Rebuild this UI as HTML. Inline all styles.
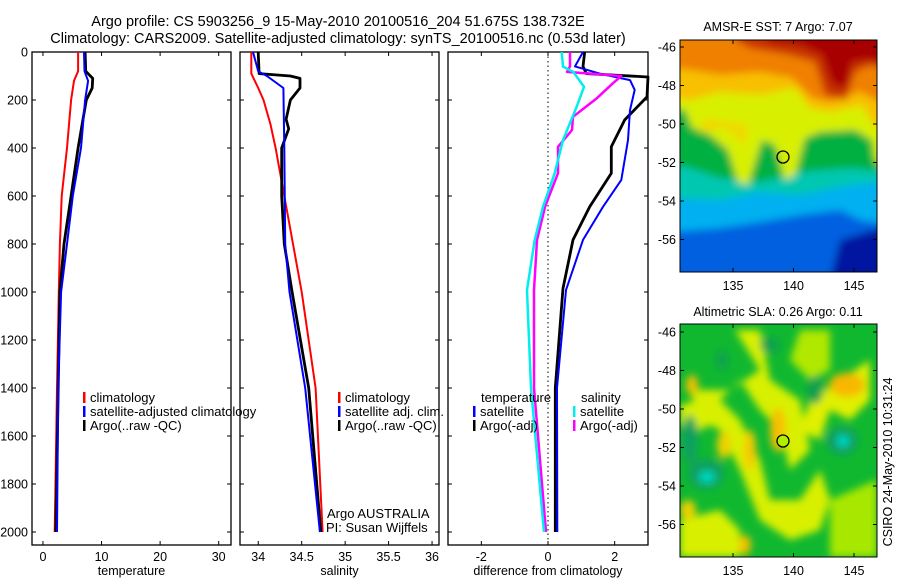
<!DOCTYPE html>
<html><head><meta charset="utf-8"><style>
body{margin:0;background:#fff}
svg{display:block;font-family:"Liberation Sans",sans-serif}
</style></head><body>
<svg id="fig" width="900" height="580" viewBox="0 0 900 580">
<defs>
<filter id="blr" x="-10%" y="-10%" width="120%" height="120%"><feGaussianBlur stdDeviation="4"/></filter>
<clipPath id="c1"><rect x="680" y="40" width="197" height="232"/></clipPath>
<clipPath id="c2"><rect x="680" y="324" width="197" height="233"/></clipPath>
</defs>
<text x="338" y="26" font-size="14.5" text-anchor="middle">Argo profile: CS 5903256_9 15-May-2010 20100516_204 51.675S 138.732E</text>
<text x="338" y="43" font-size="14.5" text-anchor="middle">Climatology: CARS2009. Satellite-adjusted climatology: synTS_20100516.nc (0.53d later)</text>

<!-- SST map -->
<g>
<g clip-path="url(#c1)">
<rect x="680" y="40" width="197" height="232" fill="#0050d8"/>
<g filter="url(#blr)">
<path d="M670,30 H890 V280 H670Z" fill="#0060e0"/>
<path d="M670,30 H890 V225 L860,220 L840,210 L800,215 L760,222 L720,228 L670,232Z" fill="#00b0f0"/>
<path d="M670,30 H890 V180 L850,185 L800,195 L760,192 L720,200 L670,198Z" fill="#00c8b0"/>
<path d="M670,30 H890 V172 L850,168 L800,172 L760,182 L720,178 L690,168 L670,165Z" fill="#00b040"/>
<path d="M670,30 H890 V175 L875,160 L872,140 L855,130 L820,132 L805,138 L795,175 L785,180 L775,145 L762,140 L748,185 L738,182 L728,150 L710,135 L692,128 L685,110 L670,108Z" fill="#d8f000"/>
<path d="M700,132 L725,128 L745,145 L748,125 L705,118Z" fill="#f0d800"/>
<path d="M670,30 H890 V135 L872,122 L862,105 L830,112 L810,108 L795,88 L760,95 L720,92 L690,100 L670,98Z" fill="#f8c000"/>
<path d="M670,30 H890 V108 L872,98 L860,92 L830,102 L812,98 L792,78 L760,72 L720,75 L690,70 L670,68Z" fill="#f08000"/>
<path d="M740,30 H890 V70 L870,65 L855,72 L846,100 L825,95 L815,62 L790,55 L750,48 L735,40Z" fill="#c83000"/>
<path d="M760,30 H890 V65 L870,60 L852,62 L846,88 L832,84 L822,55 L800,45 L770,42Z" fill="#a80000"/>
<path d="M840,240 L890,225 V280 H830Z" fill="#0018a0"/>
</g>
</g>
<rect x="680" y="40" width="197" height="232" fill="none" stroke="#000" stroke-width="1"/>
<circle cx="783" cy="157" r="6" fill="none" stroke="#000" stroke-width="1.3"/>
<text x="778" y="31" font-size="12.5" text-anchor="middle">AMSR-E SST: 7 Argo: 7.07</text>
</g>

<!-- SLA map -->
<g>
<g clip-path="url(#c2)">
<rect x="680" y="324" width="197" height="233" fill="#10b830"/>
<g filter="url(#blr)">
<path d="M680,405 L700,400 L720,395 L720,420 L700,430 L680,425Z" fill="#d8f000"/>
<path d="M735,330 L760,330 L770,380 L800,400 L810,450 L790,470 L780,430 L760,410 L740,380 L720,400 L740,420 L760,460 L770,500 L800,500 L820,470 L830,500 L820,530 L790,540 L760,520 L740,470 L720,430 L700,420 L690,390 L730,390 L760,370Z" fill="#d8f000"/>
<path d="M800,330 L830,330 L830,370 L810,380 L790,360Z" fill="#b0e800"/>
<path d="M840,380 L870,360 L870,400 L850,420 L830,410 L820,440 L800,430 L810,400Z" fill="#e0f000"/>
<path d="M680,520 L720,510 L740,530 L740,557 L680,557Z" fill="#d8f000"/>
<path d="M830,500 L877,480 L877,557 L830,557Z" fill="#a8e800"/>
<ellipse cx="778" cy="430" rx="8" ry="22" fill="#f8c000"/>
<ellipse cx="750" cy="450" rx="6" ry="20" fill="#f8c800"/>
<ellipse cx="724" cy="445" rx="7" ry="14" fill="#f0d000"/>
<ellipse cx="847" cy="385" rx="18" ry="12" fill="#f8b800"/>
<ellipse cx="692" cy="385" rx="6" ry="10" fill="#f8c000"/>
<ellipse cx="688" cy="510" rx="8" ry="10" fill="#f0d000"/>
<ellipse cx="745" cy="545" rx="6" ry="10" fill="#f8c000"/>
<ellipse cx="842" cy="441" rx="16" ry="14" fill="#10a060"/>
<ellipse cx="843" cy="441" rx="6" ry="6" fill="#00d8c8"/>
<ellipse cx="706" cy="474" rx="18" ry="15" fill="#10a060"/>
<ellipse cx="707" cy="477" rx="8" ry="6" fill="#00d8c0"/>
<ellipse cx="690" cy="440" rx="8" ry="25" fill="#10a060"/>
<ellipse cx="722" cy="360" rx="6" ry="10" fill="#10a050"/>
<ellipse cx="770" cy="345" rx="10" ry="8" fill="#10a050"/>
<ellipse cx="815" cy="390" rx="8" ry="14" fill="#10a050"/>
</g>
</g>
<rect x="680" y="324" width="197" height="233" fill="none" stroke="#000" stroke-width="1"/>
<circle cx="783" cy="441" r="6" fill="#b0f000" stroke="#000" stroke-width="1.3"/>
<text x="778" y="316" font-size="12.5" text-anchor="middle">Altimetric SLA: 0.26 Argo: 0.11</text>
</g>
<text transform="translate(892,462) rotate(-90)" font-size="12.5" text-anchor="middle">CSIRO 24-May-2010 10:31:24</text>
<g id="mapaxes"></g>
<g id="plots"></g>
</svg>
<script>
// ---- data ----
const tDepth = [0, 80, 120, 200, 400, 600, 800, 1000, 1400, 2000];
const tClim = [6.0, 6.0, 5.3, 4.8, 4.1, 3.2, 2.9, 2.7, 2.4, 2.0];
const tSat = [7.0, 7.1, 7.7, 7.2, 6.5, 5.1, 4.1, 3.1, 2.6, 2.4];
const tArgoDepth = [0, 80, 110, 150, 200, 400, 600, 800, 1000, 1400, 2000];
const tArgo = [7.2, 7.3, 8.5, 8.4, 7.4, 6.0, 4.8, 3.6, 2.9, 2.6, 2.2];

const sClimDepth = [0, 90, 150, 200, 300, 400, 600, 800, 1000, 1400, 2000];
const sClim = [33.92, 33.92, 34.0, 34.06, 34.14, 34.2, 34.3, 34.4, 34.5, 34.66, 34.74];
const sSatDepth = [0, 80, 100, 150, 400, 800, 1000, 1400, 2000];
const sSat = [33.94, 34.0, 34.1, 34.29, 34.3, 34.31, 34.36, 34.54, 34.71];
const sArgoDepth = [0, 90, 100, 110, 150, 200, 280, 320, 400, 600, 800, 1000, 1400, 2000];
const sArgo = [34.0, 34.01, 34.37, 34.48, 34.48, 34.37, 34.32, 34.35, 34.27, 34.27, 34.3, 34.39, 34.58, 34.72];

const dSalSatDepth = [0, 61, 83, 145, 228, 367, 505, 645, 783, 992, 1400, 2000];
const dSalSat = [0.41, 0.45, 0.76, 1.08, 0.86, 0.45, 0.2, -0.15, -0.4, -0.63, -0.51, -0.12];
const dSalArgoDepth = [0, 60, 83, 100, 130, 192, 270, 325, 395, 505, 645, 783, 992, 1400, 2000];
const dSalArgo = [0.66, 0.66, 0.57, 2.2, 1.95, 1.47, 0.75, 0.72, 0.3, 0.3, -0.09, -0.33, -0.42, -0.42, -0.06];
const dTempSatDepth = [0, 60, 90, 117, 158, 242, 367, 533, 645, 783, 992, 1400, 2000];
const dTempSat = [1.05, 0.81, 1.55, 2.46, 2.6, 2.46, 2.4, 2.2, 1.65, 1.05, 0.54, 0.27, 0.28];
const dTempArgoDepth = [0, 60, 90, 104, 187, 283, 395, 505, 645, 783, 985, 1400, 2000];
const dTempArgo = [1.1, 1.05, 1.15, 3.2, 2.97, 2.3, 1.9, 1.9, 1.25, 0.75, 0.45, 0.22, 0.22];

const depthTicks = [0, 200, 400, 600, 800, 1000, 1200, 1400, 1600, 1800, 2000];
const tTicks = [0, 10, 20, 30];
const sTicks = [34, 34.5, 35, 35.5, 36];
const sTickLabels = ['34', '34.5', '35', '35.5', '36'];
const dTicks = [-2, 0, 2];
const latTicks = [-46, -48, -50, -52, -54, -56];
const lonTicks = [135, 140, 145];

const NS = 'http://www.w3.org/2000/svg';
function mk(tag, attrs, parent) { const e = document.createElementNS(NS, tag); for (const k in attrs) e.setAttribute(k, attrs[k]); parent.appendChild(e); return e; }
const plots = document.getElementById('plots');
const top0 = 52, bot = 545;
const yD = d => top0 + d * 0.24;

const panels = [
  { name: 'temperature-panel', x0: 32, x1: 231, lo: -1.87, hi: 32.1, ticks: tTicks, labels: tTicks.map(String), xlabel: 'temperature', ylabels: true },
  { name: 'salinity-panel', x0: 240, x1: 439, lo: 33.79, hi: 36.08, ticks: sTicks, labels: sTickLabels, xlabel: 'salinity', ylabels: false },
  { name: 'difference-panel', x0: 448, x1: 648, lo: -3, hi: 3, ticks: dTicks, labels: dTicks.map(String), xlabel: 'difference from climatology', ylabels: false }
];
panels.forEach(p => { p.sx = v => p.x0 + (v - p.lo) / (p.hi - p.lo) * (p.x1 - p.x0); });

function drawAxes(p) {
  const g = mk('g', {}, plots);
  
  
  mk('rect', { x: p.x0, y: top0, width: p.x1 - p.x0, height: bot - top0, fill: 'none', stroke: '#000', 'stroke-width': 1.3 }, g);
  depthTicks.forEach(d => {
    const y = yD(d);
    mk('line', { x1: p.x0, x2: p.x0 + 4, y1: y, y2: y, stroke: '#000' }, g);
    mk('line', { x1: p.x1 - 4, x2: p.x1, y1: y, y2: y, stroke: '#000' }, g);
    if (p.ylabels) {
      const t = mk('text', { x: 28, y: y + 4.5, 'font-size': 12.5, 'text-anchor': 'end' }, g);
      t.textContent = d;
      
      
    }
  });
  p.ticks.forEach((v, i) => {
    const x = p.sx(v);
    mk('line', { x1: x, x2: x, y1: top0, y2: top0 + 4, stroke: '#000' }, g);
    mk('line', { x1: x, x2: x, y1: bot - 4, y2: bot, stroke: '#000' }, g);
    const t = mk('text', { x: x, y: bot + 16, 'font-size': 12.5, 'text-anchor': 'middle' }, g);
    t.textContent = p.labels[i];
    
    
  });
  const xl = mk('text', { x: (p.x0 + p.x1) / 2, y: 575, 'font-size': 12.5, 'text-anchor': 'middle' }, g);
  xl.textContent = p.xlabel;
  
  
}
function drawLine(p, depths, vals, color, w, name) {
  const pts = depths.map((d, i) => { let x = p.sx(vals[i]); x = Math.min(Math.max(x, p.x0), p.x1); return x.toFixed(1) + ',' + yD(d).toFixed(1); }).join(' ');
  const l = mk('polyline', { points: pts, fill: 'none', stroke: color, 'stroke-width': w, 'stroke-linejoin': 'round' }, plots);
  
  
}
panels.forEach(drawAxes);
const [P1, P2, P3] = panels;
const zl = mk('line', { x1: P3.sx(0), x2: P3.sx(0), y1: top0, y2: bot, stroke: '#000', 'stroke-dasharray': '1.5,3' }, plots);



drawLine(P1, tDepth, tClim, '#f00', 2, 'temp-climatology-line');
drawLine(P1, tArgoDepth, tArgo, '#000', 2.8, 'temp-argo-line');
drawLine(P1, tDepth, tSat, '#00f', 2, 'temp-satellite-line');
drawLine(P2, sClimDepth, sClim, '#f00', 2, 'sal-climatology-line');
drawLine(P2, sArgoDepth, sArgo, '#000', 2.8, 'sal-argo-line');
drawLine(P2, sSatDepth, sSat, '#00f', 2, 'sal-satellite-line');
drawLine(P3, dTempArgoDepth, dTempArgo, '#000', 2.8, 'diff-temp-argo-line');
drawLine(P3, dTempSatDepth, dTempSat, '#00f', 2, 'diff-temp-satellite-line');
drawLine(P3, dSalArgoDepth, dSalArgo, '#f0f', 2.5, 'diff-sal-argo-line');
drawLine(P3, dSalSatDepth, dSalSat, '#0ee', 2.5, 'diff-sal-satellite-line');

function legend(x, y, color, text) {
  const g = mk('g', {}, plots);
  
  
  if (color) mk('rect', { x: x, y: y - 10, width: 2.5, height: 11, fill: color }, g);
  const t = mk('text', { x: x + 7, y: y, 'font-size': 13 }, g);
  t.textContent = text;
}
legend(83, 402, '#f00', 'climatology');
legend(83, 416, '#00f', 'satellite-adjusted climatology');
legend(83, 430, '#000', 'Argo(..raw -QC)');
legend(338, 402, '#f00', 'climatology');
legend(338, 416, '#00f', 'satellite adj. clim.');
legend(338, 430, '#000', 'Argo(..raw -QC)');
legend(474, 402, null, 'temperature');
legend(473, 416, '#00f', 'satellite');
legend(473, 430, '#000', 'Argo(-adj)');
legend(574, 402, null, 'salinity');
legend(573, 416, '#0ee', 'satellite');
legend(573, 430, '#f0f', 'Argo(-adj)');
const a1 = mk('text', { x: 327, y: 518, 'font-size': 13 }, plots);
a1.textContent = 'Argo AUSTRALIA';


const a2 = mk('text', { x: 326, y: 532, 'font-size': 13 }, plots);
a2.textContent = 'PI: Susan Wijffels';



const ma = document.getElementById('mapaxes');
[{ y0: 40, y1: 272, latY: 47 }, { y0: 324, y1: 557, latY: 332 }].forEach(m => {
  const lonX = lon => 733 + (lon - 135) * 12.1;
  const latY = lat => m.latY + (-46 - lat) * 19.25;
  latTicks.forEach(lat => {
    const y = latY(lat);
    mk('line', { x1: 680, x2: 684, y1: y, y2: y, stroke: '#000' }, ma);
    mk('line', { x1: 873, x2: 877, y1: y, y2: y, stroke: '#000' }, ma);
    const t = mk('text', { x: 676, y: y + 4.5, 'font-size': 12.5, 'text-anchor': 'end' }, ma);
    t.textContent = lat;
    
    
  });
  lonTicks.forEach(lon => {
    const x = lonX(lon);
    mk('line', { x1: x, x2: x, y1: m.y0, y2: m.y0 + 4, stroke: '#000' }, ma);
    mk('line', { x1: x, x2: x, y1: m.y1 - 4, y2: m.y1, stroke: '#000' }, ma);
    const t = mk('text', { x: x, y: m.y1 + 18, 'font-size': 12.5, 'text-anchor': 'middle' }, ma);
    t.textContent = lon;
    
    
  });
});
</script>
</body></html>
